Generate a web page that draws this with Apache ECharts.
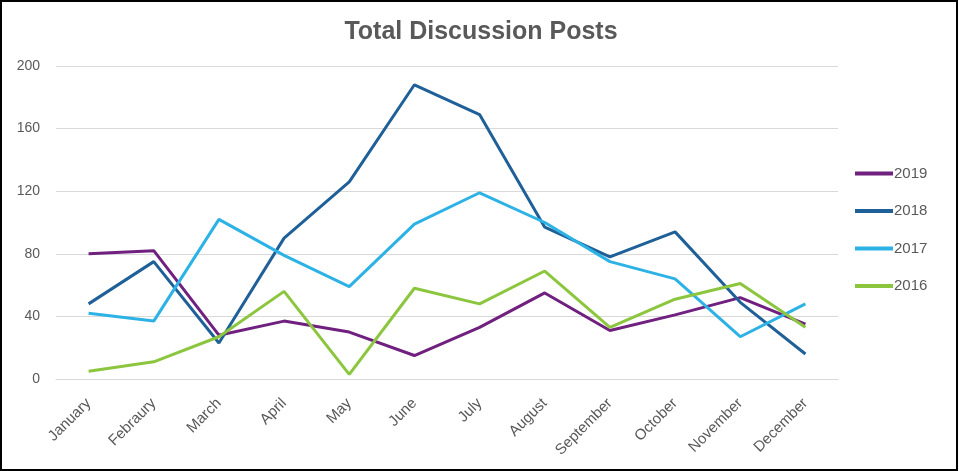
<!DOCTYPE html>
<html>
<head>
<meta charset="utf-8">
<script src="https://cdn.jsdelivr.net/npm/echarts@6/dist/echarts.min.js"></script>
<style>
html,body{margin:0;padding:0;background:#fff;}
#chart{position:absolute;left:0;top:0;width:959px;height:471px;}
#frame{position:absolute;left:0;top:0;width:954px;height:467px;border:2px solid #000;pointer-events:none;}
</style>
</head>
<body>
<div id="chart"></div>
<div id="frame"></div>
<script>
const months = ['January','Febraury','March','April','May','June','July','August','September','October','November','December'];
const s2019 = [80, 82, 28, 37, 30, 15, 33, 55, 31, 41, 52, 35];
const s2018 = [48, 75, 23, 90, 126, 188, 169, 97, 78, 94, 49, 16];
const s2017 = [42, 37, 102, 79, 59, 99, 119, 100, 75, 64, 27, 48];
const s2016 = [5, 11, 27, 56, 3, 58, 48, 69, 33, 51, 61, 33];
const yTicks = [0, 40, 80, 120, 160, 200];

const chart = echarts.init(document.getElementById('chart'));
const mk = (name, data, color) => ({
  name, type: 'line', data, symbol: 'none', smooth: false,
  lineStyle: {color, width: 3}, itemStyle: {color}
});
chart.setOption({
  animation: false,
  title: {text: 'Total Discussion Posts', left: 476, top: 15, textAlign: 'center',
    textStyle: {fontFamily: 'Arial, Liberation Sans', fontWeight: 'bold', fontSize: 25, color: '#595959'}},
  grid: {left: 56, right: 121, top: 66, bottom: 92},
  legend: {orient: 'vertical', left: 850, top: 161, itemWidth: 38, itemHeight: 4, itemGap: 22.5,
    icon: 'rect',
    textStyle: {fontFamily: 'Arial, Liberation Sans', fontSize: 15, color: '#595959', padding: [0,0,0,-4]},
    data: ['2019','2018','2017','2016']},
  xAxis: {type: 'category', data: months, boundaryGap: true,
    axisLine: {show: true, lineStyle: {color: '#d9d9d9'}}, axisTick: {show: false},
    axisLabel: {rotate: 45, fontFamily: 'Arial, Liberation Sans', fontSize: 15, color: '#595959', margin: 22, interval: 0}},
  yAxis: {type: 'value', min: yTicks[0], max: yTicks[yTicks.length-1], interval: 40,
    axisLine: {show: false}, axisTick: {show: false},
    splitLine: {lineStyle: {color: '#d9d9d9', width: 1}},
    axisLabel: {fontFamily: 'Arial, Liberation Sans', fontSize: 14, color: '#595959', margin: 16}},
  series: [
    mk('2019', s2019, '#70207E'),
    mk('2018', s2018, '#1F6098'),
    mk('2017', s2017, '#2DB2E6'),
    mk('2016', s2016, '#8CC63F')
  ]
});
</script>
</body>
</html>
